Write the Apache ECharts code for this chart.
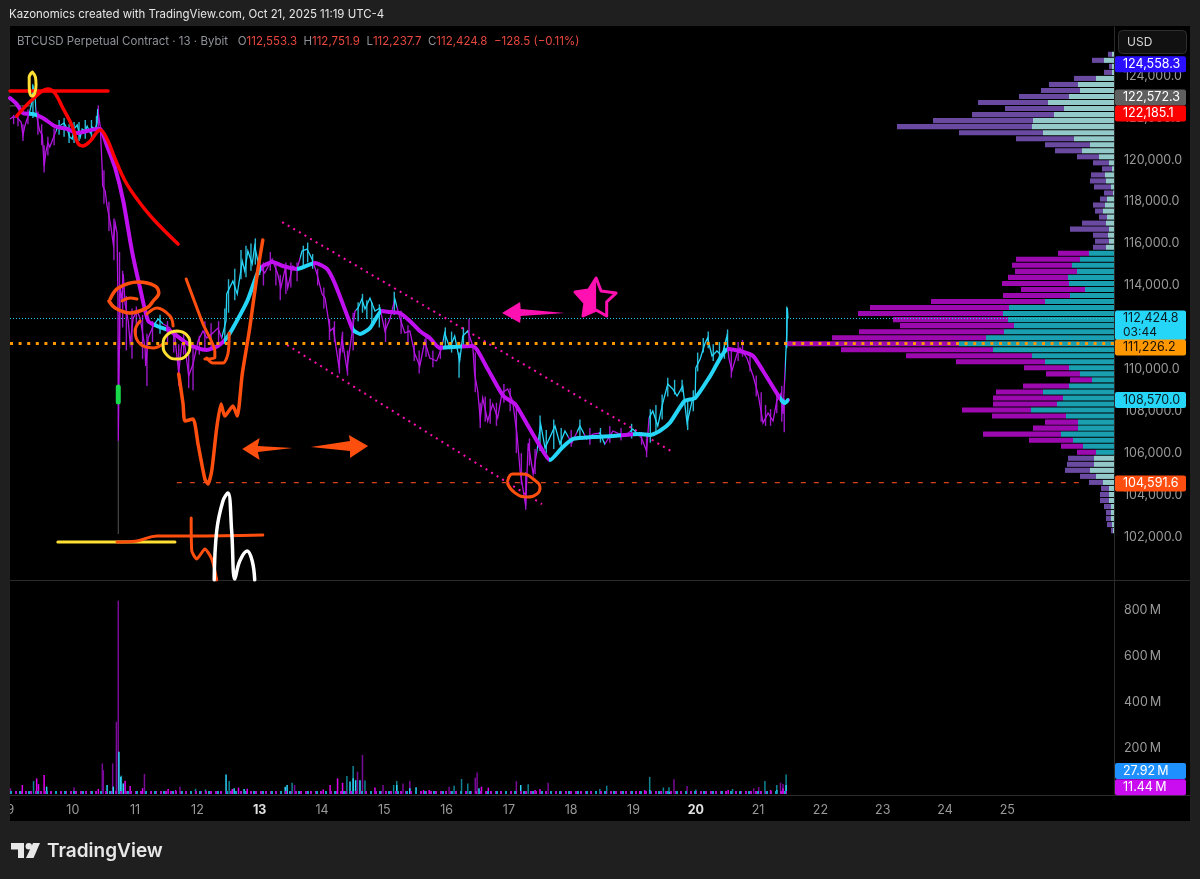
<!DOCTYPE html>
<html>
<head>
<meta charset="utf-8">
<style>
  html, body { margin: 0; padding: 0; background: #1f1f1f; }
  #chart { width: 1200px; height: 879px; }
</style>
<script src="https://cdn.jsdelivr.net/npm/echarts@6/dist/echarts.min.js"></script>
</head>
<body>
<div id="chart"></div>
<script>
const dayTicks = [9, 10, 11, 12, 13, 14, 15, 16, 17, 18, 19, 20, 21, 22, 23, 24, 25];
const boldDays = [13, 20];
const priceTicks = [102000, 104000, 106000, 108000, 110000, 112000, 114000, 116000, 118000, 120000, 122000, 124000];
const volumeTicks = [200, 400, 600, 800];

// [day of October, price]
const priceLine = [[8.992,121948],[9.04,122043],[9.07,121948],[9.10,122040],[9.14,121900],[9.17,121800],[9.20,121184],[9.23,121610],[9.26,121900],[9.30,122190],[9.33,122570],[9.35,122900],[9.36,123475],[9.39,123190],[9.41,122330],[9.44,121757],[9.47,121375],[9.51,121184],[9.54,119700],[9.57,120420],[9.60,120800],[9.63,120610],[9.68,120990],[9.73,121375],[9.76,121610],[9.81,121660],[9.86,121757],[9.91,121470],[9.95,121090],[9.99,120990],[10.02,121470],[10.07,121660],[10.12,121090],[10.15,121470],[10.20,121375],[10.23,121610],[10.28,121280],[10.31,121565],[10.36,121470],[10.39,121757],[10.40,122425],[10.44,121610],[10.47,119700],[10.48,118750],[10.52,118510],[10.55,117795],[10.58,117320],[10.61,116840],[10.65,115980],[10.68,116985],[10.71,116510],[10.725,113260],[10.73,106580],[10.76,113880],[10.79,113260],[10.81,114550],[10.84,113120],[10.89,112306],[10.92,111256],[10.97,112450],[11.03,112780],[11.08,112450],[11.16,111020],[11.17,110160],[11.21,111495],[11.29,112070],[11.37,112400],[11.45,112165],[11.56,111970],[11.64,111495],[11.70,109820],[11.75,111210],[11.80,111113],[11.86,109680],[11.93,110250],[12.01,111350],[12.09,111830],[12.15,111495],[12.23,111690],[12.33,111970],[12.39,111495],[12.46,112306],[12.47,113595],[12.57,114215],[12.64,113595],[12.72,115170],[12.76,114693],[12.81,115647],[12.88,115027],[12.92,115885],[12.97,115170],[13.02,114835],[13.08,114597],[13.20,115265],[13.29,114550],[13.34,113880],[13.41,114835],[13.45,113880],[13.53,114930],[13.60,114790],[13.68,115647],[13.76,115740],[13.84,115265],[13.92,114550],[14.00,113595],[14.05,113400],[14.13,111830],[14.18,111970],[14.27,110160],[14.32,111495],[14.40,110015],[14.48,111690],[14.53,112780],[14.58,112930],[14.64,113355],[14.69,112880],[14.77,113400],[14.85,112780],[14.93,112930],[15.01,111830],[15.09,112400],[15.17,113355],[15.25,112450],[15.33,111735],[15.41,111830],[15.49,110730],[15.57,110160],[15.65,111350],[15.73,110540],[15.84,110397],[15.92,111020],[15.97,111735],[16.05,111020],[16.13,111590],[16.21,110397],[16.26,111590],[16.34,111830],[16.42,111113],[16.45,109777],[16.50,108965],[16.54,107630],[16.58,108630],[16.66,107533],[16.74,108345],[16.82,107675],[16.89,108870],[16.98,109060],[17.06,108488],[17.13,106910],[17.18,105147],[17.27,103476],[17.31,106480],[17.39,105000],[17.45,106100],[17.51,107390],[17.58,106245],[17.74,107295],[17.82,106435],[17.90,107056],[18.01,106480],[18.14,107295],[18.25,106675],[18.35,106910],[18.46,106960],[18.54,106435],[18.67,107056],[18.78,106910],[18.86,106815],[18.99,107150],[19.13,106720],[19.21,106100],[19.25,107675],[19.31,108010],[19.39,107295],[19.47,108390],[19.55,109300],[19.63,109060],[19.70,108725],[19.79,109200],[19.86,107435],[19.94,108488],[19.99,108630],[20.00,110065],[20.07,110490],[20.15,111255],[20.19,111495],[20.26,110635],[20.34,110874],[20.42,110635],[20.50,111590],[20.53,110540],[20.58,109920],[20.66,110730],[20.71,111020],[20.82,110540],[20.92,109680],[21.00,108820],[21.08,107435],[21.16,107915],[21.24,107533],[21.30,108488],[21.37,108870],[21.40,107870],[21.43,109777],[21.46,111690],[21.47,112930],[21.48,112424.8]];
const priceCyanRanges = [[9.30,9.41],[9.73,10.40],[11.30,11.45],[12.40,13.02],[13.65,13.85],[14.55,14.95],[15.15,15.2],[15.95,16.35],[17.45,17.95],[18.1,18.2],[18.45,18.55],[18.95,19.05],[19.25,20.52],[21.43,21.5]];
// candle ranges read along the price, [day, low, high]
const candleRanges = [[9.05,121700,122150],[9.12,121600,122100],[9.2,120900,121700],[9.28,121700,122400],[9.36,122000,123600],[9.44,121200,122300],[9.50,120700,121700],[9.54,119400,120700],[9.6,120200,121100],[9.7,120700,121500],[9.78,121200,121900],[9.86,121100,122000],[9.94,120800,121700],[10.02,120800,121800],[10.1,120900,121800],[10.2,121000,121900],[10.3,121000,121900],[10.38,121200,122100],[10.41,121300,122600],[10.5,117900,119500],[10.58,116600,118000],[10.66,115200,117200],[10.75,111000,115600],[10.8,112000,114700],[10.86,110900,113500],[10.95,110500,112900],[11.02,111700,113000],[11.12,110500,112600],[11.19,109200,111700],[11.28,111300,112300],[11.4,111700,112600],[11.52,111200,112300],[11.62,110800,111900],[11.7,109200,111200],[11.78,110700,111700],[11.86,109100,110800],[11.93,109000,111000],[12.03,110700,111600],[12.12,111000,112300],[12.22,111000,112200],[12.34,111200,112300],[12.44,111200,112900],[12.5,112700,114300],[12.6,113300,114800],[12.7,114300,115700],[12.78,114400,115900],[12.86,114700,116000],[12.93,115000,116250],[13.0,114500,115500],[13.06,114000,115100],[13.17,114700,115600],[13.26,114000,115000],[13.33,113300,114500],[13.42,113600,115100],[13.5,113900,115100],[13.6,114200,115100],[13.7,114800,115900],[13.77,115100,116050],[13.85,114800,115500],[13.93,114000,114800],[14.03,112900,113900],[14.12,111400,112400],[14.2,111300,112300],[14.28,109800,111000],[14.33,110800,111800],[14.41,109700,110900],[14.5,110900,112700],[14.58,112300,113200],[14.65,112700,113600],[14.72,112400,113300],[14.8,112200,113200],[14.92,112000,113100],[15.02,111300,112400],[15.16,112600,113700],[15.27,111700,112800],[15.38,111200,112100],[15.48,110400,111200],[15.56,109800,110900],[15.67,110600,111600],[15.78,110100,110900],[15.9,110500,111300],[15.98,111100,112000],[16.08,110800,111800],[16.2,109600,110800],[16.27,111100,112000],[16.36,111200,112400],[16.46,108900,110800],[16.54,107200,108400],[16.62,107500,108700],[16.7,107400,108600],[16.8,107300,108400],[16.92,108400,109300],[17.02,108000,109100],[17.12,106000,108200],[17.2,104500,106000],[17.27,103300,105100],[17.33,105400,106700],[17.42,105000,106200],[17.5,106100,107800],[17.6,106000,107100],[17.72,106200,107600],[17.84,106100,107200],[18.0,106300,107100],[18.14,106800,107600],[18.3,106400,107200],[18.47,106500,107200],[18.62,106500,107300],[18.8,106600,107200],[18.97,106700,107400],[19.13,106400,107000],[19.21,105800,106700],[19.27,106500,108100],[19.36,107000,108300],[19.46,107600,108800],[19.55,108700,109600],[19.66,108800,109500],[19.78,108900,109500],[19.87,107100,108600],[19.96,108000,109000],[20.03,109900,110800],[20.12,110800,111500],[20.2,111000,111800],[20.28,110400,111200],[20.38,110400,111300],[20.46,110500,111300],[20.51,110900,111900],[20.57,109600,110900],[20.68,110400,111300],[20.75,110600,111400],[20.87,109900,110800],[20.97,108700,109700],[21.05,107500,108900],[21.12,107300,108300],[21.2,107300,108100],[21.3,107900,108900],[21.38,107500,109200],[21.42,107000,108600],[21.46,111000,113000]];
const longWick = [[10.73,106580],[10.73,102140]];
const greenMark = [[10.73,109156],[10.73,108440]];

const maLine = [[8.992,122950],[9.10,122660],[9.20,122234],[9.36,122186],[9.52,122000],[9.71,121610],[9.91,121470],[10.07,121280],[10.39,121470],[10.44,121470],[10.55,120660],[10.68,119610],[10.81,118034],[10.95,115647],[11.08,113880],[11.21,112306],[11.35,112070],[11.56,111830],[11.83,111256],[11.99,111020],[12.15,110920],[12.33,111113],[12.47,111495],[12.57,111970],[12.80,113261],[12.96,114550],[13.05,114930],[13.21,115120],[13.37,114930],[13.60,114790],[13.89,115075],[14.08,114790],[14.21,114070],[14.45,112210],[14.50,111875],[14.61,111690],[14.77,111970],[14.96,112780],[15.09,112735],[15.25,112690],[15.41,112306],[15.57,111830],[15.73,111495],[15.89,111020],[16.10,111065],[16.42,111113],[16.65,110065],[16.91,108725],[17.10,108345],[17.29,107390],[17.47,106480],[17.66,105670],[17.85,106245],[18.03,106675],[18.35,106770],[18.67,106815],[19.10,106910],[19.26,106865],[19.42,107056],[19.58,107435],[19.82,108488],[19.99,108630],[20.23,109680],[20.52,110970],[20.76,110825],[20.92,110635],[21.08,109920],[21.35,108630],[21.43,108390],[21.48,108535]];
const maCyanRanges = [[9.30,9.42],[11.30,11.50],[12.42,13.02],[13.60,13.85],[14.50,14.95],[15.95,16.25],[17.65,18.80],[19.0,20.50],[21.35,21.5]];

// horizontal price levels
const lastPrice = 112424.8;
const pocPrice = 111226.2;
const lowPrice = 104591.6;
const highMark = 122572.3;
const lowLineStart = 11.67;
const lowLineEnd = 26.25;
const highMarkEnd = 9.36;

// hand drawn marks, [day, price]
const redTop = [[8.992,123284],[10.565,123284]];
const redCurve = [[9.10,122090],[9.36,122900],[9.60,123380],[9.71,123190],[9.84,122470],[9.99,121610],[10.08,120800],[10.16,120660],[10.28,120900],[10.44,121420],[10.55,120990],[10.68,120040],[10.84,118990],[11.03,118130],[11.29,117175],[11.69,115980]];
const yellowOval = [[9.35,124190],[9.40,123950],[9.41,123570],[9.39,123190],[9.35,123045],[9.31,123190],[9.30,123570],[9.30,123950],[9.35,124190]];
const orangeScribble = [[10.60,113355],[10.73,113880],[11.05,114170],[11.32,113980],[11.38,113640],[11.29,113260],[11.19,112930],[10.92,112690],[10.68,112930],[10.58,113260]];
const orangeInner = [[10.79,113260],[10.92,113400],[11.03,113355]];
const orangeArc = [[11.19,112640],[11.35,112930],[11.56,112545],[11.61,112070]];
const orangeLoop = [[11.08,112306],[11.00,111830],[11.08,111210],[11.29,111020],[11.45,111210]];
const yellowCircle = [[11.67,111830],[11.83,111640],[11.88,111160],[11.83,110680],[11.67,110490],[11.51,110680],[11.45,111160],[11.51,111640],[11.67,111830]];
const orangeBig = [[11.70,109780],[11.77,108345],[11.80,107533],[11.93,107630],[12.01,106435],[12.12,104765],[12.17,104525],[12.23,105147],[12.31,107200],[12.38,108345],[12.44,107770],[12.57,108250],[12.64,107770],[12.72,109780],[12.84,111970],[12.96,114550],[13.05,116170]];
const orangeSlash = [[11.82,114310],[12.09,112165],[12.28,110874],[12.28,110540],[12.12,110490]];
const orangeHook = [[12.51,111735],[12.49,110730],[12.41,110300],[12.25,110300],[12.15,110540]];
const orangeBottom = [[10.71,101760],[11.03,101810],[11.35,102045],[11.88,102045],[13.05,102090]];
const orangeDrop = [[11.90,102900],[11.91,101330],[11.99,100950],[12.12,101425],[12.23,100950],[12.31,99950]];
const yellowBottom = [[9.76,101760],[11.64,101760]];
const whiteWave = [[12.27,99950],[12.31,102290],[12.41,103715],[12.49,104097],[12.55,102290],[12.60,99990],[12.68,100850],[12.80,101330],[12.88,100850],[12.92,99950]];
const orangeEllipse = [[16.98,104670],[17.06,105000],[17.21,105000],[17.39,104765],[17.50,104335],[17.45,104050],[17.29,103905],[17.10,104100],[16.98,104525]];
const arrowLeft = [[12.72,106200],[13.00,106720],[12.97,106340],[13.53,106245],[12.97,106050],[13.00,105670]];
const arrowRight = [[14.74,106340],[14.43,106865],[14.45,106580],[13.82,106290],[14.45,106100],[14.45,105770]];
const arrowPink = [[16.89,112690],[17.18,113215],[17.19,112880],[17.90,112690],[17.19,112545],[17.18,112210]];
const starOutline = [[18.40,114360],[18.48,113740],[18.72,113640],[18.57,113215],[18.57,112545],[18.40,112830],[18.19,112545],[18.22,113165],[18.06,113690],[18.28,113785],[18.40,114360]];
const starHalf = [[18.40,114360],[18.40,112830],[18.19,112545],[18.22,113165],[18.06,113690],[18.28,113785]];
const trendUpper = [[13.36,117030],[19.63,106050]];
const trendLower = [[13.44,111160],[17.53,103570]];

// visible range volume rows, top to bottom
const profileLevels = [125036,124748,124460,124173,123885,123597,123309,123022,122734,122446,122158,121870,121583,121295,121007,120719,120431,120144,119856,119568,119280,118992,118705,118417,118129,117841,117553,117266,116978,116690,116402,116114,115826,115539,115251,114963,114675,114388,114100,113812,113524,113236,112949,112661,112373,112085,111797,111510,111222,110934,110646,110358,110071,109783,109495,109207,108919,108632,108344,108056,107768,107480,107193,106905,106617,106329,106041,105754,105466,105178,104890,104602,104315,104027,103739,103451,103163,102876,102588,102300];
const profileTotal = [6,22,5,10,40,65,73,95,136,109,142,181,217,155,98,69,59,37,21,12,23,24,20,10,14,21,19,15,32,44,21,19,21,56,98,102,99,106,112,93,111,183,244,256,221,214,255,282,329,273,208,158,90,68,44,91,118,121,121,152,122,69,81,131,85,53,37,46,47,49,34,25,13,14,14,10,8,8,7,3];
const profileInner = [2,10,2,2,18,36,34,45,66,50,60,81,82,71,40,24,32,15,5,2,9,8,3,1,7,9,11,7,8,5,6,5,8,25,34,42,37,46,45,29,44,69,105,111,106,100,110,128,155,121,82,69,45,34,22,45,71,51,57,83,48,36,36,53,41,31,18,20,20,24,18,11,5,5,5,3,3,3,2,1];
const profileBucket = 288;
const valueAreaHigh = 115600;
const valueAreaLow = 106000;

// lower pane, volume in millions, [day, volume]
const volPurple = [[9.0,25],[10.02,29],[10.474,133],[10.49,104],[10.64,133],[10.70,314],[10.73,840],[11.15,87],[11.72,32],[13.56,39],[14.57,97],[14.65,170],[14.98,39],[15.30,46],[15.41,56],[16.04,32],[16.46,71],[16.49,93],[17.12,56],[17.63,49],[19.65,64],[19.86,35],[20.93,25],[21.01,30],[21.36,49],[21.40,43]];
const volTeal = [[9.37,56],[10.78,80],[11.97,23],[12.13,20],[12.51,56],[13.52,49],[14.40,78],[14.50,122],[14.69,59],[15.15,39],[15.20,56],[16.12,36],[16.24,65],[16.34,46],[17.31,42],[18.46,22],[18.57,36],[19.26,74],[19.48,28],[19.57,29],[20.0,20],[20.59,22],[21.11,56],[21.30,39],[21.45,85]];
const volMagenta = [[9.19,39],[9.42,68],[9.45,43],[9.54,83],[10.41,22],[10.84,58],[10.92,35],[11.12,25],[11.53,22],[11.65,17],[12.56,22],[12.66,28],[12.8,23],[14.02,20],[14.13,39],[14.25,68],[14.33,49],[14.85,28],[15.63,17],[15.72,17],[16.56,32],[16.67,28],[17.42,17],[17.5,22],[19.10,13],[19.18,17],[20.52,17],[21.20,17],[21.40,25]];
const volCyan = [[9.58,32],[10.55,39],[10.65,32],[10.74,184],[10.77,75],[10.81,46],[12.46,85],[12.59,25],[12.75,22],[13.41,32],[13.44,39],[14.45,54],[14.50,68],[14.54,60],[14.61,60],[15.20,39],[15.41,25],[15.51,29],[16.52,25],[17.19,39],[19.26,17],[19.57,10],[21.30,17],[21.45,39]];
const volumeFloor = [[8.992,7],[21.48,7]];

const priceTagValues = [124558.3, 122572.3, 122185.1, 112424.8, 111226.2, 108570.0, 104591.6];
const priceTagTexts = ['124,558.3', '122,572.3', '122,185.1', '112,424.8', '111,226.2', '108,570.0', '104,591.6'];
const volumeTagValues = [27.92, 11.44];
const volumeTagTexts = ['27.92\u2009M', '11.44\u2009M'];
const countdownText = '03:44';

const FONT = 'Inter, "Noto Sans", sans-serif';
const CYAN = '#26d6f8';
const PURPLE = '#c010f0';
const ORANGE = '#ff4f0f';
const YELLOW = '#ffe033';
const PINK = '#ff10b0';

// tag looks, same order as the values; shift is how far TradingView pushes a tag to avoid its neighbour
const priceTagLooks = [
  { bg: '#2a10ff', fg: '#ffffff', shift: 0 },
  { bg: '#5f5f5f', fg: '#ffffff', shift: -8.4 },
  { bg: '#ff0000', fg: '#ffffff', shift: -0.5 },
  { bg: CYAN, fg: '#0b1a20', shift: 0, sub: countdownText },
  { bg: '#ff9800', fg: '#1a1005', shift: 4 },
  { bg: CYAN, fg: '#0b1a20', shift: 0.7 },
  { bg: '#ff4e0f', fg: '#ffffff', shift: 1 }
];
const volumeTagLooks = [
  { bg: '#1e90ff', fg: '#ffffff', shift: -16.5 },
  { bg: '#c90cf0', fg: '#ffffff', shift: -4 }
];

function drawn(data, color, width, smooth = 0.4) {
  return {
    type: 'line', data, xAxisIndex: 0, yAxisIndex: 0, symbol: 'none', smooth, z: 12, silent: true,
    lineStyle: { color, width, cap: 'round', join: 'round' }
  };
}

function straight(data, color, width, type, z = 6) {
  return {
    type: 'line', data, xAxisIndex: 0, yAxisIndex: 0, symbol: 'none', z, silent: true,
    lineStyle: { color, width, type, cap: 'butt' }
  };
}

function polygon(points, fill, stroke, strokeWidth = 0) {
  return {
    type: 'custom', data: points, xAxisIndex: 0, yAxisIndex: 0, z: 13, silent: true,
    renderItem(params, api) {
      if (params.dataIndex !== 0) return null;
      return {
        type: 'polygon',
        shape: { points: points.map(p => api.coord(p)) },
        style: { fill: fill, stroke: stroke, lineWidth: strokeWidth, lineJoin: 'round' }
      };
    }
  };
}

function volumeBars(data, color) {
  return { type: 'bar', data, xAxisIndex: 2, yAxisIndex: 1, barWidth: 1.5, barGap: '-100%', itemStyle: { color }, silent: true, z: 3 };
}

function tagSeries(values, texts, looks, xAxisIndex, yAxisIndex) {
  return {
    type: 'custom', data: values.map(v => [v]), encode: { y: 0 }, xAxisIndex, yAxisIndex, z: 30, silent: true, clip: false,
    renderItem(params, api) {
      const look = looks[params.dataIndex];
      const y = api.coord([0, values[params.dataIndex]])[1] + look.shift;
      const left = params.coordSys.x + params.coordSys.width + 1;
      const h = look.sub ? 29.5 : 16;
      const children = [
        { type: 'rect', shape: { x: left, y: y - 8, width: 71, height: h, r: 2 }, style: { fill: look.bg } },
        { type: 'text', style: { x: left + 8, y, text: texts[params.dataIndex], fill: look.fg, font: '12.5px ' + FONT, verticalAlign: 'middle' } }
      ];
      if (look.sub) {
        children.push({ type: 'text', style: { x: left + 8, y: y + 14, text: look.sub, fill: look.fg, font: '12px ' + FONT, verticalAlign: 'middle' } });
      }
      return { type: 'group', children };
    }
  };
}

const inCyan = day => priceCyanRanges.some(r => day > r[0] && day <= r[1]);

const candleSeries = {
  type: 'custom', data: candleRanges, xAxisIndex: 0, yAxisIndex: 0, z: 6, silent: true,
  renderItem(params, api) {
    const day = api.value(0);
    const low = api.coord([day, api.value(1)]);
    const high = api.coord([day, api.value(2)]);
    return {
      type: 'line',
      shape: { x1: low[0], y1: low[1], x2: high[0], y2: high[1] },
      style: { stroke: inCyan(day) ? '#2bb8d4' : '#9c18c8', lineWidth: 1.4 }
    };
  }
};

const profileSeries = {
  type: 'custom', xAxisIndex: 1, yAxisIndex: 0, z: 2, silent: true,
  data: profileLevels.map((level, i) => [profileTotal[i], level, profileInner[i]]),
  renderItem(params, api) {
    const level = api.value(1);
    const inValueArea = level < valueAreaHigh && level > valueAreaLow;
    const zero = api.coord([0, level]);
    const inner = api.coord([api.value(2), level]);
    const outer = api.coord([api.value(0), level]);
    const h = (api.coord([0, level - profileBucket])[1] - zero[1]) * 0.84;
    return {
      type: 'group',
      children: [
        { type: 'rect', shape: { x: outer[0], y: zero[1] - h / 2, width: inner[0] - outer[0], height: h }, style: { fill: inValueArea ? '#9c0aaf' : '#6a4aa0' } },
        { type: 'rect', shape: { x: inner[0], y: zero[1] - h / 2, width: zero[0] - inner[0], height: h }, style: { fill: inValueArea ? '#1a9fb0' : '#93c9c9' } }
      ]
    };
  }
};

const series = [
  profileSeries,
  straight([[8.992, lastPrice], [26.713, lastPrice]], '#22cdea', 1.2, [1, 2]),
  straight([[8.992, pocPrice], [26.713, pocPrice]], '#ff9800', 3, [3, 5.6], 9),
  straight([[lowLineStart, lowPrice], [lowLineEnd, lowPrice]], '#d8431c', 1.2, [5, 8]),
  straight([[8.992, highMark], [highMarkEnd, highMark]], '#666666', 1, 'solid'),
  straight(trendUpper, PINK, 2, [2, 4.5]),
  straight(trendLower, PINK, 2, [2, 4.5]),
  straight(longWick, '#555555', 1, 'solid'),
  candleSeries,
  {
    type: 'line', data: priceLine, xAxisIndex: 0, yAxisIndex: 0, symbol: 'none', z: 7, silent: true,
    lineStyle: { width: 1.3, join: 'miter' }
  },
  {
    type: 'line', data: maLine, xAxisIndex: 0, yAxisIndex: 0, symbol: 'none', smooth: 0.2, z: 8, silent: true,
    lineStyle: { width: 4, cap: 'round' }
  },
  drawn(greenMark, '#18d84a', 5, false),
  drawn(redTop, '#ff0000', 3.5, false),
  drawn(redCurve, '#ff0000', 3.5),
  drawn(yellowOval, YELLOW, 3),
  drawn(orangeScribble, ORANGE, 3.5),
  drawn(orangeInner, ORANGE, 3),
  drawn(orangeArc, ORANGE, 3),
  drawn(orangeLoop, ORANGE, 3),
  drawn(yellowCircle, YELLOW, 3, 0.5),
  drawn(orangeBig, ORANGE, 3.5, 0.2),
  drawn(orangeSlash, ORANGE, 3, 0.2),
  drawn(orangeHook, ORANGE, 3, 0.3),
  drawn(yellowBottom, YELLOW, 3, false),
  drawn(orangeBottom, ORANGE, 3),
  drawn(orangeDrop, ORANGE, 3, 0.2),
  drawn(whiteWave, '#ffffff', 3.5, 0.4),
  drawn(orangeEllipse, ORANGE, 3, 0.5),
  polygon(arrowLeft, ORANGE),
  polygon(arrowRight, ORANGE),
  polygon(arrowPink, PINK),
  polygon(starOutline, 'transparent', PINK, 3),
  polygon(starHalf, PINK),
  volumeBars(volPurple, '#7a0a98'),
  volumeBars(volTeal, '#0f8494'),
  volumeBars(volMagenta, '#e000f0'),
  volumeBars(volCyan, '#2fd4fa'),
  {
    type: 'line', data: volumeFloor, xAxisIndex: 2, yAxisIndex: 1, symbol: 'none', z: 4, silent: true,
    lineStyle: { color: '#b010d0', width: 3, type: [2, 3] }
  },
  {
    type: 'line', data: volumeFloor, xAxisIndex: 2, yAxisIndex: 1, symbol: 'none', z: 4, silent: true,
    lineStyle: { color: '#18a0c0', width: 3, type: [2, 7] }
  },
  tagSeries(priceTagValues, priceTagTexts, priceTagLooks, 0, 0),
  tagSeries(volumeTagValues, volumeTagTexts, volumeTagLooks, 2, 1)
];

const priceSeriesIndex = series.findIndex(s => s.data === priceLine);
const maSeriesIndex = series.findIndex(s => s.data === maLine);

const toPieces = (ranges, color) => ranges.map(r => ({ gt: r[0], lte: r[1], color }));

const labelStyle = { color: '#9a9a9a', fontSize: 12.5, fontFamily: FONT };
const axisEdge = { show: true, lineStyle: { color: '#2b2b2b', width: 1 } };

const option = {
  backgroundColor: '#1f1f1f',
  animation: false,
  title: [
    { text: 'Kazonomics created with TradingView.com, Oct 21, 2025 11:19 UTC-4', left: 9, top: 9, padding: 0, textStyle: { color: '#e6e6e6', fontSize: 11.45, fontWeight: 'normal', fontFamily: FONT } },
    {
      text: '{g|BTCUSD Perpetual Contract · 13 · Bybit   O}{r|112,553.3}{g|  H}{r|112,751.9}{g|  L}{r|112,237.7}{g|  C}{r|112,424.8}{r|  −128.5 (−0.11%)}',
      left: 17, top: 36, padding: 0,
      textStyle: { fontFamily: FONT, fontWeight: 'normal', rich: {
        g: { color: '#8f9399', fontSize: 11.5, fontFamily: FONT },
        r: { color: '#e8483f', fontSize: 11.5, fontFamily: FONT }
      } }
    }
  ],
  graphic: [
    { type: 'rect', z: -10, shape: { x: 10, y: 26, width: 1180, height: 795 }, style: { fill: '#000000' } },
    { type: 'rect', z: -5, shape: { x: 10, y: 580, width: 1180, height: 1 }, style: { fill: '#2b2b2b' } },
    { type: 'rect', z: -5, shape: { x: 10, y: 795, width: 1180, height: 1 }, style: { fill: '#2b2b2b' } },
    { type: 'rect', z: 40, shape: { x: 0, y: 796, width: 10, height: 30 }, style: { fill: '#1f1f1f' } },
    { type: 'rect', z: 40, shape: { x: 1118.5, y: 30.5, width: 68, height: 23, r: 4 }, style: { fill: '#111111', stroke: '#2e2e2e', lineWidth: 1 } },
    { type: 'text', z: 41, style: { x: 1127, y: 42, text: 'USD', fill: '#d6d6d6', font: '12px ' + FONT, verticalAlign: 'middle' } },
    { type: 'polygon', z: 41, shape: { points: [[11, 843], [24, 843], [24, 858], [18, 858], [18, 849.5], [11, 849.5]] }, style: { fill: '#e8e8e8' } },
    { type: 'circle', z: 41, shape: { cx: 28.8, cy: 846.2, r: 3.2 }, style: { fill: '#e8e8e8' } },
    { type: 'polygon', z: 41, shape: { points: [[33, 843], [40, 843], [33.5, 858], [26, 858]] }, style: { fill: '#e8e8e8' } },
    { type: 'text', z: 41, style: { x: 47, y: 851, text: 'TradingView', fill: '#e8e8e8', font: '600 19px ' + FONT, verticalAlign: 'middle' } }
  ],
  visualMap: [
    { type: 'piecewise', show: false, seriesIndex: priceSeriesIndex, dimension: 0, pieces: toPieces(priceCyanRanges, CYAN), outOfRange: { color: '#b414e0' } },
    { type: 'piecewise', show: false, seriesIndex: maSeriesIndex, dimension: 0, pieces: toPieces(maCyanRanges, CYAN), outOfRange: { color: PURPLE } }
  ],
  grid: [
    { left: 10, top: 27, width: 1104, height: 554 },
    { left: 10, top: 581, width: 1104, height: 213 }
  ],
  xAxis: [
    { type: 'value', gridIndex: 0, min: 8.992, max: 26.713, show: false },
    { type: 'value', gridIndex: 0, min: 0, max: 1104, inverse: true, show: false },
    {
      type: 'value', gridIndex: 1, min: 8.992, max: 26.713,
      axisLine: { show: false }, axisTick: { show: false }, splitLine: { show: false },
      axisLabel: {
        customValues: dayTicks, margin: 10, ...labelStyle,
        formatter: v => boldDays.includes(v) ? `{b|${v}}` : `${v}`,
        rich: { b: { color: '#e0e0e0', fontSize: 12.5, fontWeight: 'bold', fontFamily: FONT } }
      }
    }
  ],
  yAxis: [
    {
      type: 'value', gridIndex: 0, position: 'right', min: 99896, max: 126339, scale: true,
      axisLine: axisEdge, axisTick: { show: false }, splitLine: { show: false },
      axisLabel: {
        customValues: priceTicks, margin: 10, ...labelStyle,
        formatter: v => v.toLocaleString('en-US', { minimumFractionDigits: 1 })
      }
    },
    {
      type: 'value', gridIndex: 1, position: 'right', min: 0, max: 926,
      axisLine: axisEdge, axisTick: { show: false }, splitLine: { show: false },
      axisLabel: { customValues: volumeTicks, margin: 10, ...labelStyle, formatter: v => `${v}\u2009M` }
    }
  ],
  series
};

const chart = echarts.init(document.getElementById('chart'), null, { renderer: 'canvas' });
chart.setOption(option);
</script>
</body>
</html>
